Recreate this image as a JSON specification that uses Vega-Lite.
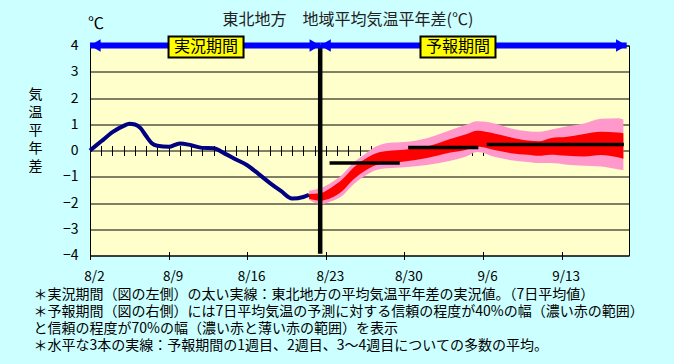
{
  "$schema": "https://vega.github.io/schema/vega-lite/v6.json",
  "width": 539,
  "height": 210,
  "autosize": {"type": "none"},
  "padding": {"left": 90, "top": 45.5, "right": 45, "bottom": 108.5},
  "background": "#CCFFFF",
  "config": {
    "view": {"fill": "#FFFFCC", "stroke": "#000000", "strokeWidth": 1},
    "font": "Noto Sans CJK JP"
  },
  "title": {
    "text": "東北地方　地域平均気温平年差(℃)",
    "font": "Noto Sans CJK JP",
    "fontSize": 16,
    "fontWeight": "normal",
    "color": "#222222",
    "anchor": "middle",
    "frame": "group",
    "baseline": "middle",
    "dx": -11.5,
    "offset": -20
  },
  "datasets": {
    "obs": [
      {"date": "2021-08-02T00:00", "value": 0.0},
      {"date": "2021-08-03T00:00", "value": 0.35},
      {"date": "2021-08-04T00:00", "value": 0.70},
      {"date": "2021-08-05T00:00", "value": 0.94},
      {"date": "2021-08-05T12:00", "value": 1.02},
      {"date": "2021-08-06T00:00", "value": 0.99},
      {"date": "2021-08-06T12:00", "value": 0.85},
      {"date": "2021-08-07T00:00", "value": 0.55},
      {"date": "2021-08-07T12:00", "value": 0.28},
      {"date": "2021-08-08T00:00", "value": 0.18},
      {"date": "2021-08-09T00:00", "value": 0.14},
      {"date": "2021-08-10T00:00", "value": 0.27},
      {"date": "2021-08-11T00:00", "value": 0.20},
      {"date": "2021-08-12T00:00", "value": 0.10},
      {"date": "2021-08-13T00:00", "value": 0.09},
      {"date": "2021-08-14T00:00", "value": -0.12},
      {"date": "2021-08-15T00:00", "value": -0.34},
      {"date": "2021-08-16T00:00", "value": -0.56},
      {"date": "2021-08-17T00:00", "value": -0.89},
      {"date": "2021-08-18T00:00", "value": -1.23},
      {"date": "2021-08-19T00:00", "value": -1.54},
      {"date": "2021-08-20T00:00", "value": -1.83},
      {"date": "2021-08-21T00:00", "value": -1.77},
      {"date": "2021-08-21T12:00", "value": -1.69}
    ],
    "fc": [
      {"date": "2021-08-21T12:00", "hi70": -1.53, "hi40": -1.66, "lo40": -1.84, "lo70": -1.88},
      {"date": "2021-08-22T12:00", "hi70": -1.44, "hi40": -1.63, "lo40": -1.91, "lo70": -2.04},
      {"date": "2021-08-23T12:00", "hi70": -1.22, "hi40": -1.41, "lo40": -1.80, "lo70": -1.93},
      {"date": "2021-08-24T12:00", "hi70": -0.90, "hi40": -1.09, "lo40": -1.53, "lo70": -1.71},
      {"date": "2021-08-25T12:00", "hi70": -0.45, "hi40": -0.64, "lo40": -1.09, "lo70": -1.28},
      {"date": "2021-08-26T12:00", "hi70": -0.13, "hi40": -0.32, "lo40": -0.77, "lo70": -0.96},
      {"date": "2021-08-27T12:00", "hi70": 0.16, "hi40": -0.10, "lo40": -0.55, "lo70": -0.74},
      {"date": "2021-08-28T12:00", "hi70": 0.29, "hi40": -0.02, "lo40": -0.49, "lo70": -0.68},
      {"date": "2021-08-30T00:00", "hi70": 0.32, "hi40": 0.03, "lo40": -0.42, "lo70": -0.64},
      {"date": "2021-09-01T00:00", "hi70": 0.47, "hi40": 0.15, "lo40": -0.29, "lo70": -0.55},
      {"date": "2021-09-03T00:00", "hi70": 0.76, "hi40": 0.43, "lo40": -0.09, "lo70": -0.40},
      {"date": "2021-09-04T12:00", "hi70": 0.98, "hi40": 0.62, "lo40": 0.03, "lo70": -0.23},
      {"date": "2021-09-05T12:00", "hi70": 1.11, "hi40": 0.75, "lo40": 0.15, "lo70": -0.06},
      {"date": "2021-09-07T00:00", "hi70": 1.03, "hi40": 0.65, "lo40": 0.02, "lo70": -0.24},
      {"date": "2021-09-08T12:00", "hi70": 0.84, "hi40": 0.50, "lo40": -0.10, "lo70": -0.37},
      {"date": "2021-09-10T00:00", "hi70": 0.73, "hi40": 0.38, "lo40": -0.16, "lo70": -0.44},
      {"date": "2021-09-11T00:00", "hi70": 0.71, "hi40": 0.35, "lo40": -0.20, "lo70": -0.48},
      {"date": "2021-09-12T00:00", "hi70": 0.79, "hi40": 0.47, "lo40": -0.16, "lo70": -0.48},
      {"date": "2021-09-13T12:00", "hi70": 0.92, "hi40": 0.52, "lo40": -0.20, "lo70": -0.54},
      {"date": "2021-09-15T00:00", "hi70": 1.03, "hi40": 0.63, "lo40": -0.23, "lo70": -0.58},
      {"date": "2021-09-16T12:00", "hi70": 1.21, "hi40": 0.71, "lo40": -0.17, "lo70": -0.61},
      {"date": "2021-09-18T00:00", "hi70": 1.23, "hi40": 0.69, "lo40": -0.26, "lo70": -0.71},
      {"date": "2021-09-18T12:00", "hi70": 1.18, "hi40": 0.66, "lo40": -0.31, "lo70": -0.74}
    ],
    "weekly": [
      {"start": "2021-08-23T08:00", "end": "2021-08-29T14:00", "value": -0.48},
      {"start": "2021-08-30T08:00", "end": "2021-09-05T14:00", "value": 0.11},
      {"start": "2021-09-06T08:00", "end": "2021-09-18T13:00", "value": 0.23}
    ],
    "divider": [{"date": "2021-08-22T12:00"}],
    "periods": [
      {"start": "2021-08-02T00:00", "end": "2021-08-22T12:00"},
      {"start": "2021-08-22T12:00", "end": "2021-09-18T19:00"}
    ],
    "heads": [
      {"date": "2021-08-02T00:00", "dir": "L"},
      {"date": "2021-08-22T12:00", "dir": "R"},
      {"date": "2021-08-22T12:00", "dir": "L"},
      {"date": "2021-09-18T19:00", "dir": "R"}
    ],
    "labels": [
      {"date": "2021-08-12T08:00", "label": "実況期間"},
      {"date": "2021-09-03T18:30", "label": "予報期間"}
    ]
  },
  "resolve": {"axis": {"x": "independent", "y": "independent"}},
  "layer": [
    {
      "data": {"name": "fc"},
      "mark": {"type": "area", "color": "#FF99CC", "interpolate": "monotone"},
      "encoding": {
        "x": {
          "field": "date", "type": "temporal",
          "scale": {"type": "time", "domain": [{"year": 2021, "month": 8, "date": 2}, {"year": 2021, "month": 9, "date": 19}], "nice": false},
          "axis": {
            "orient": "bottom", "offset": -4, "tickSize": 8, "tickColor": "#000000", "tickWidth": 1,
            "domain": false, "grid": false, "format": "%-m/%-d",
            "values": [
              {"year": 2021, "month": 8, "date": 2}, {"year": 2021, "month": 8, "date": 9},
              {"year": 2021, "month": 8, "date": 16}, {"year": 2021, "month": 8, "date": 23},
              {"year": 2021, "month": 8, "date": 30}, {"year": 2021, "month": 9, "date": 6},
              {"year": 2021, "month": 9, "date": 13}
            ],
            "labelFontSize": 13.5, "labelColor": "#000000", "labelPadding": 10, "labelOffset": 4,
            "labelOverlap": false, "labelFlush": false, "labelBound": false,
            "title": [
              "＊実況期間（図の左側）の太い実線：東北地方の平均気温平年差の実況値。（7日平均値）",
              "＊予報期間（図の右側）には7日平均気温の予測に対する信頼の程度が40%の幅（濃い赤の範囲）",
              "\u2003と信頼の程度が70%の幅（濃い赤と薄い赤の範囲）を表示",
              "＊水平な3本の実線：予報期間の1週目、2週目、3～4週目についての多数の平均。"
            ],
            "titleFontSize": 14, "titleFontWeight": "normal", "titleColor": "#000000",
            "titleAlign": "left", "titleBaseline": "top", "titleAnchor": "start",
            "titleX": -57, "titleY": 36, "titleLineHeight": 17
          }
        },
        "y": {
          "field": "lo70", "type": "quantitative",
          "scale": {"domain": [-4, 4], "nice": false, "zero": false},
          "axis": {
            "orient": "left", "values": [-4, -3, -2, -1, 0, 1, 2, 3, 4],
            "grid": true, "gridColor": "#000000", "gridWidth": 1, "gridOpacity": 1,
            "domain": false, "ticks": false, "labelPadding": 12, "labelFontSize": 14, "labelColor": "#000000",
            "title": ["気", "温", "平", "年", "差"], "titleAngle": 0, "titleFontSize": 14,
            "titleFontWeight": "normal", "titleColor": "#000000", "titleLineHeight": 18,
            "titleAlign": "center", "titleBaseline": "top", "titleX": -55, "titleY": 42
          }
        },
        "y2": {"field": "hi70"}
      }
    },
    {
      "data": {"name": "fc"},
      "mark": {"type": "area", "color": "#FF0000", "interpolate": "monotone"},
      "encoding": {
        "x": {
          "field": "date", "type": "temporal",
          "axis": {
            "orient": "bottom", "offset": -110, "tickSize": 10, "tickColor": "#000000", "tickWidth": 1,
            "domain": false, "labels": false, "grid": false, "title": null,
            "tickCount": {"interval": "day", "step": 1}
          }
        },
        "y": {
          "field": "lo40", "type": "quantitative",
          "axis": {
            "orient": "left", "labels": false, "ticks": false, "domain": false, "grid": false,
            "title": "℃", "titleAngle": 0, "titleFontSize": 16, "titleFontWeight": "normal",
            "titleColor": "#000000", "titleAlign": "center", "titleBaseline": "middle",
            "titleX": 5.5, "titleY": -22
          }
        },
        "y2": {"field": "hi40"}
      }
    },
    {
      "data": {"name": "obs"},
      "mark": {"type": "line", "color": "#000080", "strokeWidth": 4, "interpolate": "monotone"},
      "encoding": {
        "x": {"field": "date", "type": "temporal", "axis": null},
        "y": {"field": "value", "type": "quantitative", "axis": null}
      }
    },
    {
      "data": {"name": "weekly"},
      "mark": {"type": "rule", "color": "#000000", "strokeWidth": 3.5},
      "encoding": {
        "x": {"field": "start", "type": "temporal", "axis": null},
        "x2": {"field": "end"},
        "y": {"field": "value", "type": "quantitative", "axis": null}
      }
    },
    {
      "data": {"name": "divider"},
      "mark": {"type": "rule", "color": "#000000", "strokeWidth": 4.5},
      "encoding": {
        "x": {"field": "date", "type": "temporal", "axis": null},
        "y": {"datum": 4, "axis": null},
        "y2": {"datum": -3.93}
      }
    },
    {
      "data": {"name": "periods"},
      "mark": {"type": "rule", "color": "#0000FF", "strokeWidth": 6},
      "encoding": {
        "x": {"field": "start", "type": "temporal", "axis": null},
        "x2": {"field": "end"},
        "y": {"datum": 4, "axis": null}
      }
    },
    {
      "data": {"name": "heads"},
      "mark": {"type": "point", "filled": true, "color": "#0000FF", "size": 450, "opacity": 1, "strokeWidth": 0},
      "encoding": {
        "x": {"field": "date", "type": "temporal", "axis": null},
        "y": {"datum": 4, "axis": null},
        "shape": {
          "field": "dir", "type": "nominal", "legend": null,
          "scale": {"domain": ["L", "R"], "range": ["M0,0L1,-0.6L1,0.6Z", "M0,0L-1,-0.6L-1,0.6Z"]}
        }
      }
    },
    {
      "data": {"name": "labels"},
      "mark": {"type": "point", "filled": true, "fill": "#FFFF00", "stroke": "#000000", "strokeWidth": 2, "opacity": 1, "fillOpacity": 1, "size": 5625, "shape": "M-1,-0.24L1,-0.24L1,0.32L-1,0.32Z"},
      "encoding": {
        "x": {"field": "date", "type": "temporal", "axis": null},
        "y": {"datum": 4, "axis": null}
      }
    },
    {
      "data": {"name": "labels"},
      "mark": {"type": "text", "fontSize": 16, "color": "#000000", "baseline": "middle", "align": "center", "dy": 1.5},
      "encoding": {
        "x": {"field": "date", "type": "temporal", "axis": null},
        "y": {"datum": 4, "axis": null},
        "text": {"field": "label"}
      }
    }
  ]
}
